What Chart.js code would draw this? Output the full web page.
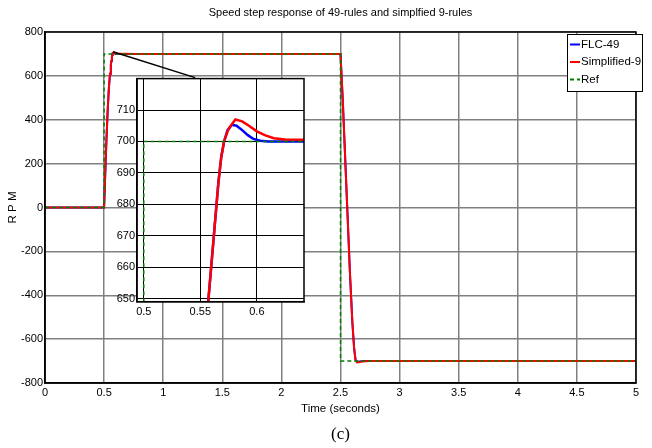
<!DOCTYPE html>
<html>
<head>
<meta charset="utf-8">
<script src="https://cdn.jsdelivr.net/npm/chart.js@4.4.1/dist/chart.umd.min.js"></script>
<style>
  html, body { margin: 0; padding: 0; background: #fff; }
  #wrap { position: relative; width: 652px; height: 448px; }
  #main { position: absolute; left: 0; top: 0; }
  #inset { position: absolute; left: 110px; top: 70px; }
</style>
</head>
<body>
<div id="wrap">
  <canvas id="main" width="652" height="448"></canvas>
  <canvas id="inset" width="200" height="255"></canvas>
</div>
<script>
// data
const flcTime = [0, 0.5, 0.51, 0.52, 0.53, 0.54, 0.55, 0.557, 0.5615, 0.566, 0.5685, 0.571, 0.574, 0.578, 0.582, 0.587, 0.592,
  0.597, 0.603, 0.61, 0.64, 2.5, 2.52, 2.54, 2.56, 2.58, 2.6, 2.615, 2.627, 2.64, 2.66, 2.7, 5];
const flcRpm = [0, 0, 160, 310, 440, 540, 610, 649, 668, 687, 695, 700, 703.5, 705.3, 705, 703.6, 702,
  700.8, 700.2, 700, 700, 700, 480, 220, -40, -300, -520, -640, -695, -704, -702, -700, -700];

const simpTime = [0, 0.5, 0.51, 0.52, 0.53, 0.54, 0.55, 0.557, 0.5615, 0.566, 0.5685, 0.571, 0.575, 0.581, 0.587, 0.593, 0.6,
  0.607, 0.615, 0.625, 0.642, 0.8, 2.5, 2.52, 2.54, 2.56, 2.58, 2.6, 2.615, 2.627, 2.64, 2.655, 2.68, 2.75, 5];
const simpRpm = [0, 0, 160, 310, 440, 540, 610, 649, 668, 687, 695, 700, 704, 707, 706.4, 705, 703.2,
  702, 701, 700.6, 700.5, 700.2, 700, 480, 220, -40, -300, -520, -640, -695, -706, -705, -702, -700, -700];

const refTime = [0, 0.5, 0.5, 2.5, 2.5, 5];
const refRpm = [0, 0, 700, 700, -700, -700];

// zoom pointer line (from the peak toward the inset)
const pointerTime = [0.575, 1.27];
const pointerRpm = [710, 592];

const xTicks = [0, 0.5, 1, 1.5, 2, 2.5, 3, 3.5, 4, 4.5, 5];
const yTicks = [-800, -600, -400, -200, 0, 200, 400, 600, 800];
const insetXTicks = [0.5, 0.55, 0.6];
const insetYTicks = [650, 660, 670, 680, 690, 700, 710];

const SANS = "'Liberation Sans Narrow', 'Liberation Sans', Arial, sans-serif";
Chart.defaults.color = '#000';
Chart.defaults.font.family = SANS;
Chart.defaults.font.size = 11;

const pts = (xs, ys) => xs.map((x, i) => ({ x: x, y: ys[i] }));
const plain = v => String(v);

function seriesSets(w) {
  return [
    { label: 'FLC-49', data: pts(flcTime, flcRpm), borderColor: '#0000ff', borderWidth: w, order: 3 },
    { label: 'Simplified-9', data: pts(simpTime, simpRpm), borderColor: '#ff0000', borderWidth: w, order: 2 },
    { label: 'Ref', data: pts(refTime, refRpm), borderColor: '#008000', borderWidth: 1.5, borderDash: [4, 3], order: 1 }
  ];
}

const setTicks = arr => scale => { scale.ticks = arr.map(v => ({ value: v })); };

const frame = {
  id: 'frame',
  afterDatasetsDraw(chart) {
    const { ctx, chartArea: a } = chart;
    ctx.save();
    ctx.strokeStyle = '#000';
    ctx.lineWidth = 1.5;
    ctx.strokeRect(a.left, a.top, a.right - a.left, a.bottom - a.top);
    ctx.restore();
  }
};

const boxLegend = {
  id: 'boxLegend',
  afterDraw(chart) {
    const { ctx, chartArea } = chart;
    const x0 = chartArea.right - 69, y0 = chartArea.top + 2, w = 75, h = 57;
    ctx.save();
    ctx.fillStyle = '#fff';
    ctx.fillRect(x0, y0, w, h);
    ctx.strokeStyle = '#000';
    ctx.lineWidth = 1;
    ctx.strokeRect(x0 + 0.5, y0 + 0.5, w, h);
    ctx.font = '11.5px ' + SANS;
    ctx.textBaseline = 'middle';
    ctx.textAlign = 'left';
    chart.data.datasets.slice(0, 3).forEach((ds, i) => {
      const y = y0 + 10.5 + i * 17.5;
      ctx.strokeStyle = ds.borderColor;
      ctx.lineWidth = 2;
      ctx.setLineDash(ds.borderDash || []);
      ctx.beginPath();
      ctx.moveTo(x0 + 3, y);
      ctx.lineTo(x0 + 13, y);
      ctx.stroke();
      ctx.setLineDash([]);
      ctx.fillStyle = '#000';
      ctx.fillText(ds.label, x0 + 14, y);
    });
    ctx.restore();
  }
};

const whiteArea = {
  id: 'whiteArea',
  beforeDraw(chart) {
    const { ctx, chartArea: a } = chart;
    ctx.save();
    ctx.fillStyle = '#fff';
    ctx.fillRect(a.left, a.top, a.right - a.left, a.bottom - a.top);
    ctx.restore();
  }
};

const mainSets = seriesSets(2);
mainSets.push({ label: 'pointer', data: pts(pointerTime, pointerRpm), borderColor: '#000', borderWidth: 1.5, order: 0 });

new Chart(document.getElementById('main'), {
  type: 'line',
  data: { datasets: mainSets },
  options: {
    responsive: false,
    animation: false,
    devicePixelRatio: 1,
    elements: { point: { radius: 0 }, line: { tension: 0 } },
    layout: { padding: { left: 0, right: 16, top: 0, bottom: 0 } },
    plugins: {
      legend: { display: false },
      tooltip: { enabled: false },
      title: {
        display: true,
        text: 'Speed step response of 49-rules and simplfied 9-rules',
        fullSize: false,
        font: { size: 11, weight: 'normal', family: SANS },
        padding: { top: 6, bottom: 12.8 }
      },
      subtitle: {
        display: true,
        position: 'bottom',
        text: '(c)',
        fullSize: false,
        font: { size: 17, weight: 'normal', family: "'Liberation Serif', 'Times New Roman', serif" },
        padding: { top: 2, bottom: 3 }
      }
    },
    scales: {
      x: {
        type: 'linear', min: 0, max: 5,
        afterBuildTicks: setTicks(xTicks),
        afterFit(s) { s.height = 39.6; },
        ticks: { padding: 3.5, maxRotation: 0, autoSkip: false, callback: plain },
        grid: { color: '#808080', lineWidth: 1.5, drawTicks: false },
        border: { color: '#000', width: 1.5 },
        title: { display: true, text: 'Time (seconds)', font: { size: 11.5 }, padding: { top: 0, bottom: 7 } }
      },
      y: {
        type: 'linear', min: -800, max: 800,
        afterBuildTicks: setTicks(yTicks),
        afterFit(s) { s.width = 45; },
        ticks: { padding: 2, autoSkip: false, callback: plain },
        grid: { color: '#808080', lineWidth: 1.5, drawTicks: false },
        border: { color: '#000', width: 1.5 },
        title: { display: true, text: 'R P M', font: { size: 11.5 }, padding: { top: 6.4, bottom: 0 } }
      }
    }
  },
  plugins: [frame, boxLegend]
});

new Chart(document.getElementById('inset'), {
  type: 'line',
  data: { datasets: seriesSets(2.5) },
  options: {
    responsive: false,
    animation: false,
    devicePixelRatio: 1,
    elements: { point: { radius: 0 }, line: { tension: 0 } },
    layout: { padding: { left: 0, right: 6, top: 6, bottom: 0 } },
    plugins: { legend: { display: false }, tooltip: { enabled: false } },
    scales: {
      x: {
        type: 'linear', min: 0.494, max: 0.6417,
        afterBuildTicks: setTicks(insetXTicks),
        afterFit(s) { s.height = 23.3; },
        ticks: { padding: 4, maxRotation: 0, autoSkip: false, callback: plain },
        grid: { color: '#000', lineWidth: 1, drawTicks: false },
        border: { color: '#000', width: 1.5 }
      },
      y: {
        type: 'linear', min: 649, max: 720,
        afterBuildTicks: setTicks(insetYTicks),
        afterFit(s) { s.width = 27; },
        ticks: { padding: 2, autoSkip: false, callback: plain },
        grid: { color: '#000', lineWidth: 1, drawTicks: false },
        border: { color: '#000', width: 1.5 }
      }
    }
  },
  plugins: [whiteArea, frame]
});
</script>
</body>
</html>
